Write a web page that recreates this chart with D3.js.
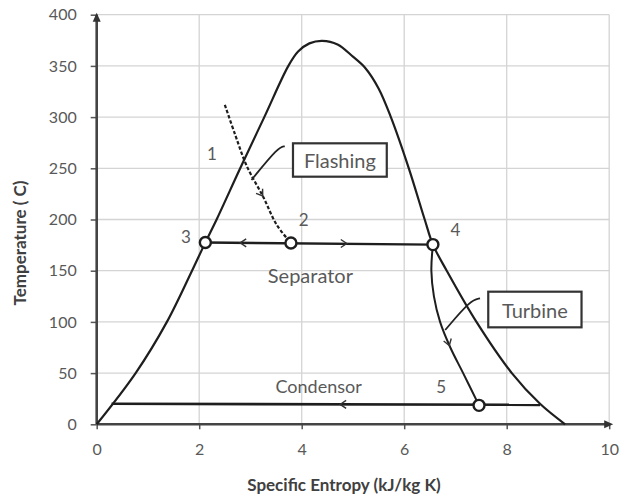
<!DOCTYPE html>
<html><head><meta charset="utf-8">
<script src="https://cdn.jsdelivr.net/npm/d3@7"></script>
<style>body{margin:0;background:#fff}svg{display:block}</style>
</head><body>
<script>
// ---- data ----
const xTicks = [0, 2, 4, 6, 8, 10];
const yTicks = [0, 50, 100, 150, 200, 250, 300, 350, 400];
const domeS = [0, 0.76, 1.37, 1.86, 2.12, 2.34, 2.80, 3.27, 3.74, 3.93, 4.15, 4.40, 4.70, 5.00, 5.24, 5.50, 5.74, 6.09, 6.40, 6.56, 6.83, 7.41, 8.10, 8.65, 9.14];
const domeT = [0, 50, 100, 150, 177.5, 200, 250, 300, 350, 364, 372, 374.5, 371, 359, 348, 328, 300, 250, 200, 175.5, 150, 100, 50, 20, 0];
const flashS = [2.50, 2.70, 2.93, 3.25, 3.51, 3.79];
const flashT = [312, 283, 252, 222, 195, 177];
const sepS = [2.12, 6.56];
const sepT = [177.5, 175.5];
const turbS = [6.56, 6.53, 6.58, 6.70, 6.90, 7.15, 7.46];
const turbT = [175.5, 150, 125, 100, 75, 50, 18.5];
const condS = [0.29, 8.65];
const condT = [20, 19];
const stateNames = ["1", "2", "3", "4", "5"];
const stateS = [null, 3.79, 2.12, 6.56, 7.46];
const stateT = [null, 177, 177.5, 175.5, 18.5];
const xTitle = "Specific Entropy (kJ/kg K)";
const yTitle = "Temperature ( C)";

const W = 620, H = 500;
const svg = d3.select("body").append("svg").attr("width", W).attr("height", H);
const x = d3.scaleLinear().domain([0, 10]).range([96.7, 609.2]);
const y = d3.scaleLinear().domain([0, 400]).range([424.3, 14.7]);
const font = "Lato, 'Open Sans', sans-serif";

// grid
svg.append("g").selectAll("line").data(yTicks.filter(d => d > 0)).join("line")
  .attr("x1", x(0)).attr("x2", x(10)).attr("y1", d => y(d)).attr("y2", d => y(d))
  .attr("stroke", "#d4d4d4").attr("stroke-width", 1.3);
svg.append("g").selectAll("line").data(xTicks.filter(d => d > 0)).join("line")
  .attr("y1", y(0)).attr("y2", y(400)).attr("x1", d => x(d)).attr("x2", d => x(d))
  .attr("stroke", "#d4d4d4").attr("stroke-width", 1.3);

// axes
const xAxis = svg.append("g").attr("transform", `translate(0,${y(0)})`)
  .call(d3.axisBottom(x).tickValues(xTicks).tickSize(5).tickPadding(14).tickFormat(d3.format("d")));
const yAxis = svg.append("g").attr("transform", `translate(${x(0)},0)`)
  .call(d3.axisLeft(y).tickValues(yTicks).tickSize(6).tickPadding(14).tickFormat(d3.format("d")));
[xAxis, yAxis].forEach(g => {
  g.select(".domain").remove();
  g.selectAll("line").attr("stroke", "#555").attr("stroke-width", 1.5);
  g.selectAll("text").attr("fill", "#595959").attr("font-family", font).attr("font-size", 16);
});
svg.append("line").attr("x1", x(0)).attr("x2", x(10)).attr("y1", y(0)).attr("y2", y(0))
  .attr("stroke", "#444").attr("stroke-width", 2.6);
svg.append("line").attr("x1", x(0)).attr("x2", x(0)).attr("y1", y(0)).attr("y2", y(400))
  .attr("stroke", "#444").attr("stroke-width", 2.6);
// axis arrowheads
svg.append("path").attr("d", `M${x(10) + 4},${y(0)} l-9,-4 l0,8 z`).attr("fill", "#333");
svg.append("path").attr("d", `M${x(0)},${y(400) - 2} l-4,9 l8,0 z`).attr("fill", "#333");

const line = d3.line().x(d => x(d[0])).y(d => y(d[1])).curve(d3.curveCatmullRom.alpha(0.5));
const zip = (a, b) => a.map((v, i) => [v, b[i]]);

// dome
svg.append("path").attr("d", line(zip(domeS, domeT))).attr("fill", "none")
  .attr("stroke", "#1e1e1e").attr("stroke-width", 2.2);
// flash (dashed)
svg.append("path").attr("d", line(zip(flashS, flashT))).attr("fill", "none")
  .attr("stroke", "#1e1e1e").attr("stroke-width", 2.2).attr("stroke-dasharray", "3.5,2");
// separator
svg.append("path").attr("d", d3.line().x(d => x(d[0])).y(d => y(d[1]))(zip(sepS, sepT)))
  .attr("fill", "none").attr("stroke", "#1e1e1e").attr("stroke-width", 2.4);
// turbine
svg.append("path").attr("d", line(zip(turbS, turbT))).attr("fill", "none")
  .attr("stroke", "#1e1e1e").attr("stroke-width", 2);
// condensor
svg.append("path").attr("d", d3.line().x(d => x(d[0])).y(d => y(d[1]))(zip(condS, condT)))
  .attr("fill", "none").attr("stroke", "#1e1e1e").attr("stroke-width", 2.6);

// flow chevrons: [s, T, direction angle degrees in screen space]
const chevrons = [[2.8, 177.2, 180], [4.88, 176.6, 0], [4.75, 19.4, 180], [3.24, 223, 55], [6.88, 77, 72]];
svg.append("g").selectAll("path").data(chevrons).join("path")
  .attr("transform", d => `translate(${x(d[0])},${y(d[1])}) rotate(${d[2]})`)
  .attr("d", "M-6,-4 L0,0 L-6,4").attr("fill", "none").attr("stroke", "#333").attr("stroke-width", 1.4);

// state points
const pts = stateNames.map((n, i) => ({n, s: stateS[i], t: stateT[i]})).filter(d => d.s !== null);
svg.append("g").selectAll("circle").data(pts).join("circle")
  .attr("cx", d => x(d.s)).attr("cy", d => y(d.t)).attr("r", 5.5)
  .attr("fill", "#fff").attr("stroke", "#1e1e1e").attr("stroke-width", 2.4);

// labels: [text, s, T, size]
const labels = [["1", 2.25, 264, 17], ["2", 4.04, 200, 17], ["3", 1.74, 183, 17], ["4", 7.0, 190, 17], ["5", 6.72, 37, 17],
  ["Separator", 4.17, 146, 20], ["Condensor", 4.33, 37, 18]];
svg.append("g").selectAll("text").data(labels).join("text")
  .attr("x", d => x(d[1])).attr("y", d => y(d[2])).attr("text-anchor", "middle").attr("dominant-baseline", "central")
  .attr("font-family", font).attr("font-size", d => d[3]).attr("fill", "#595959").text(d => d[0]);

// callout boxes: [text, s0, s1, T0, T1], leaders as [s,T] lists
const boxes = [["Flashing", 3.83, 5.66, 274.4, 241.8], ["Turbine", 7.64, 9.46, 129.5, 94.7]];
const leaders = [[[3.67, 271.5], [3.55, 271], [3.02, 238.6]], [[7.48, 123], [7.30, 121.5], [6.80, 92.1]]];
boxes.forEach(b => {
  svg.append("rect").attr("x", x(b[1])).attr("y", y(b[3])).attr("width", x(b[2]) - x(b[1])).attr("height", y(b[4]) - y(b[3]))
    .attr("fill", "#fff").attr("stroke", "#333").attr("stroke-width", 2.2);
  svg.append("text").attr("x", (x(b[1]) + x(b[2])) / 2).attr("y", (y(b[3]) + y(b[4])) / 2)
    .attr("text-anchor", "middle").attr("dominant-baseline", "central")
    .attr("font-family", font).attr("font-size", 20).attr("fill", "#595959").text(b[0]);
});
leaders.forEach(l => {
  svg.append("path").attr("d", d3.line().x(d => x(d[0])).y(d => y(d[1])).curve(d3.curveBasis)(l))
    .attr("fill", "none").attr("stroke", "#222").attr("stroke-width", 1.8);
});

// axis titles
svg.append("text").attr("x", 344).attr("y", 484).attr("text-anchor", "middle").attr("dominant-baseline", "central")
  .attr("font-family", font).attr("font-weight", "bold").attr("font-size", 17).attr("fill", "#404040").text(xTitle);
svg.append("text").attr("transform", "translate(19,243) rotate(-90)").attr("text-anchor", "middle").attr("dominant-baseline", "central")
  .attr("font-family", font).attr("font-weight", "bold").attr("font-size", 17).attr("fill", "#404040").text(yTitle);
</script>
</body></html>
